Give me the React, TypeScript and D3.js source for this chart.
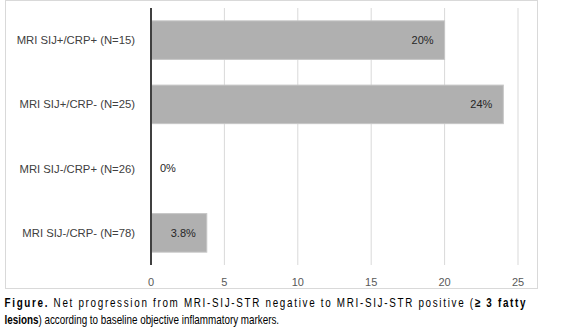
import React from "react";
import * as d3 from "d3";

const categories = [
  "MRI SIJ+/CRP+ (N=15)",
  "MRI SIJ+/CRP- (N=25)",
  "MRI SIJ-/CRP+ (N=26)",
  "MRI SIJ-/CRP- (N=78)",
];
const values = [20, 24, 0, 3.8];
const valueLabels = ["20%", "24%", "0%", "3.8%"];
const xTicks = [0, 5, 10, 15, 20, 25];

const W = 567;
const H = 333;
const font = "'Liberation Sans', Arial, sans-serif";
const sx = 0.77;

export default function App() {
  const x = d3.scaleLinear().domain([0, 25]).range([151, 518]);
  const y = d3.scaleBand<string>().domain(categories).range([8, 265]).paddingInner(0.4).paddingOuter(0.2);

  return (
    <div style={{ position: "fixed", left: 0, top: 0, width: W, height: H, background: "#fff" }}>
      <svg width={W} height={H} style={{ display: "block" }}>
        <rect x={5.5} y={0.5} width={532} height={288} fill="#fff" stroke="#d9d9d9" />
        {xTicks.slice(1).map((t) => (
          <line key={t} x1={x(t)} x2={x(t)} y1={8} y2={265} stroke="#d9d9d9" strokeWidth={1} />
        ))}
        {categories.map((c, i) => (
          <rect
            key={c}
            x={x(0)}
            y={y(c)!}
            width={x(values[i]) - x(0)}
            height={y.bandwidth()}
            fill="#b0b0b0"
            stroke="#c6c6c6"
            strokeWidth={1}
            opacity={values[i] > 0 ? 1 : 0}
          />
        ))}
        <line x1={x(0)} x2={x(0)} y1={8} y2={265} stroke="#404040" strokeWidth={2} />
        {categories.map((c, i) => (
          <text
            key={c}
            x={135}
            y={y(c)! + y.bandwidth() / 2}
            dy="0.35em"
            textAnchor="end"
            fontFamily={font}
            fontSize={11.3}
            fill="#404040"
          >
            {c}
          </text>
        ))}
        {categories.map((c, i) => {
          const v = values[i];
          const inside = x(v) - x(0) > 40;
          const small = v > 0 && !inside;
          return (
            <text
              key={c}
              x={inside ? x(v) - 11 : small ? (x(v) + x(0)) / 2 : x(0) + 9}
              y={y(c)! + y.bandwidth() / 2}
              dy="0.35em"
              textAnchor={inside ? "end" : small ? "middle" : "start"}
              fontFamily={font}
              fontSize={11}
              fill="#262626"
            >
              {valueLabels[i]}
            </text>
          );
        })}
        {xTicks.map((t) => (
          <text
            key={t}
            x={x(t)}
            y={282}
            dy="0.35em"
            textAnchor="middle"
            fontFamily={font}
            fontSize={11}
            fill="#595959"
          >
            {t}
          </text>
        ))}
        <g transform={`translate(4.5,0) scale(${sx},1)`}>
          <text x={0} y={307} fontFamily={font} fontSize={12.8} fill="#000" textLength={521 / sx} lengthAdjust="spacing">
            <tspan fontWeight="bold">Figure.</tspan>
            <tspan> Net progression from MRI-SIJ-STR negative to MRI-SIJ-STR positive (</tspan>
            <tspan fontWeight="bold">≥ 3 fatty</tspan>
          </text>
          <text x={0} y={324} fontFamily={font} fontSize={12.8} fill="#000">
            <tspan fontWeight="bold">lesions</tspan>
            <tspan>) according to baseline objective inflammatory markers.</tspan>
          </text>
        </g>
      </svg>
    </div>
  );
}
